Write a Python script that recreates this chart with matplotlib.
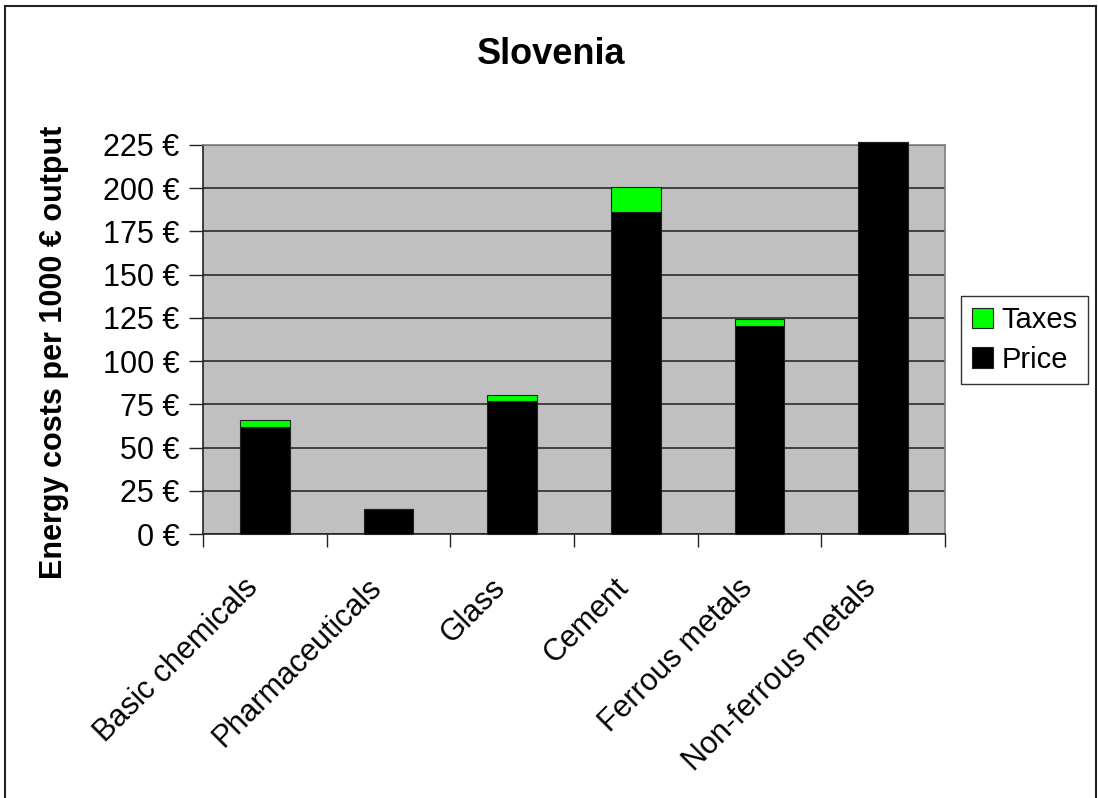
import matplotlib
matplotlib.use("Agg")
import matplotlib.pyplot as plt
from matplotlib.patches import Rectangle, Patch
from matplotlib.ticker import FuncFormatter
from matplotlib.transforms import ScaledTranslation

plt.rcParams['font.family'] = ['Liberation Sans', 'DejaVu Sans']

categories = ["Basic chemicals", "Pharmaceuticals", "Glass", "Cement",
              "Ferrous metals", "Non-ferrous metals"]
price = [62, 14.5, 77, 186.5, 120.5, 226.5]
taxes = [4, 0, 3.2, 14, 3.7, 0]
y_ticks = [0, 25, 50, 75, 100, 125, 150, 175, 200, 225]

W, H = 1098, 798
fig = plt.figure(figsize=(W / 100, H / 100), dpi=100)
fig.patch.set_facecolor("white")

ax = fig.add_axes([203 / W, 1 - 534 / H, (945 - 203) / W, (534 - 145) / H])
ax.set_facecolor("#C0C0C0")

x = [i + 0.5 for i in range(len(categories))]
ax.bar(x, price, width=0.4, color="black", edgecolor="#202020",
       linewidth=0.8, label="Price", zorder=3, clip_on=False)
ax.bar(x, taxes, width=0.4, bottom=price, color="#00FF00",
       edgecolor="#202020", linewidth=0.8, label="Taxes", zorder=3,
       clip_on=False)

ax.set_xlim(0, len(categories))
ax.set_ylim(0, 225)
ax.set_yticks(y_ticks)
ax.yaxis.set_major_formatter(FuncFormatter(lambda v, p: f"{int(v)} €"))
ax.grid(axis="y", color="#2a2a2a", linewidth=1.2, zorder=1)
ax.set_axisbelow(True)

# category boundaries carry the tick marks, centres carry the labels
ax.set_xticks(range(len(categories) + 1))
ax.set_xticklabels([])
ax.set_xticks(x, minor=True)
ax.set_xticklabels(categories, minor=True, rotation=45, ha="right",
                   va="top", rotation_mode="anchor", fontsize=22)
ax.tick_params(axis="x", which="minor", length=0, pad=28)
ax.tick_params(axis="x", which="major", length=9, width=1, color="#222222",
               direction="out")
ax.tick_params(axis="y", length=10, width=1, color="#222222",
               labelsize=22, pad=7)
shift = ScaledTranslation(-22 / 100, 0, fig.dpi_scale_trans)
for lab in ax.get_xticklabels(minor=True):
    lab.set_transform(lab.get_transform() + shift)

for side in ["top", "right"]:
    ax.spines[side].set_color("#808080")
    ax.spines[side].set_linewidth(1.2)
for side in ["left", "bottom"]:
    ax.spines[side].set_color("#222222")
    ax.spines[side].set_linewidth(1.2)

ax.set_ylabel("Energy costs per 1000 € output", fontsize=22,
              fontweight="bold")
ax.yaxis.set_label_coords(-0.1806, 0.467)

fig.text(551 / W, 1 - 54 / H, "Slovenia", fontsize=26, fontweight="bold",
         ha="center", va="center")

handles = [Patch(facecolor="#00FF00", edgecolor="#202020", linewidth=0.8),
           Patch(facecolor="black", edgecolor="#202020", linewidth=0.8)]
leg = fig.legend(handles, ["Taxes", "Price"], loc="center",
                 bbox_to_anchor=(1024.5 / W, 1 - 340 / H), fontsize=21,
                 frameon=True, fancybox=False, edgecolor="black",
                 handlelength=0.72, handleheight=0.72, handletextpad=0.3,
                 labelspacing=0.4, borderpad=0.35, borderaxespad=0)
leg.get_frame().set_linewidth(1.0)

fig.patches.append(Rectangle((5 / W, -0.02), (1096 - 5) / W,
                             1.02 - 6 / H, transform=fig.transFigure,
                             fill=False, edgecolor="#222222", linewidth=1.5))

fig.savefig("out.png", dpi=100)
